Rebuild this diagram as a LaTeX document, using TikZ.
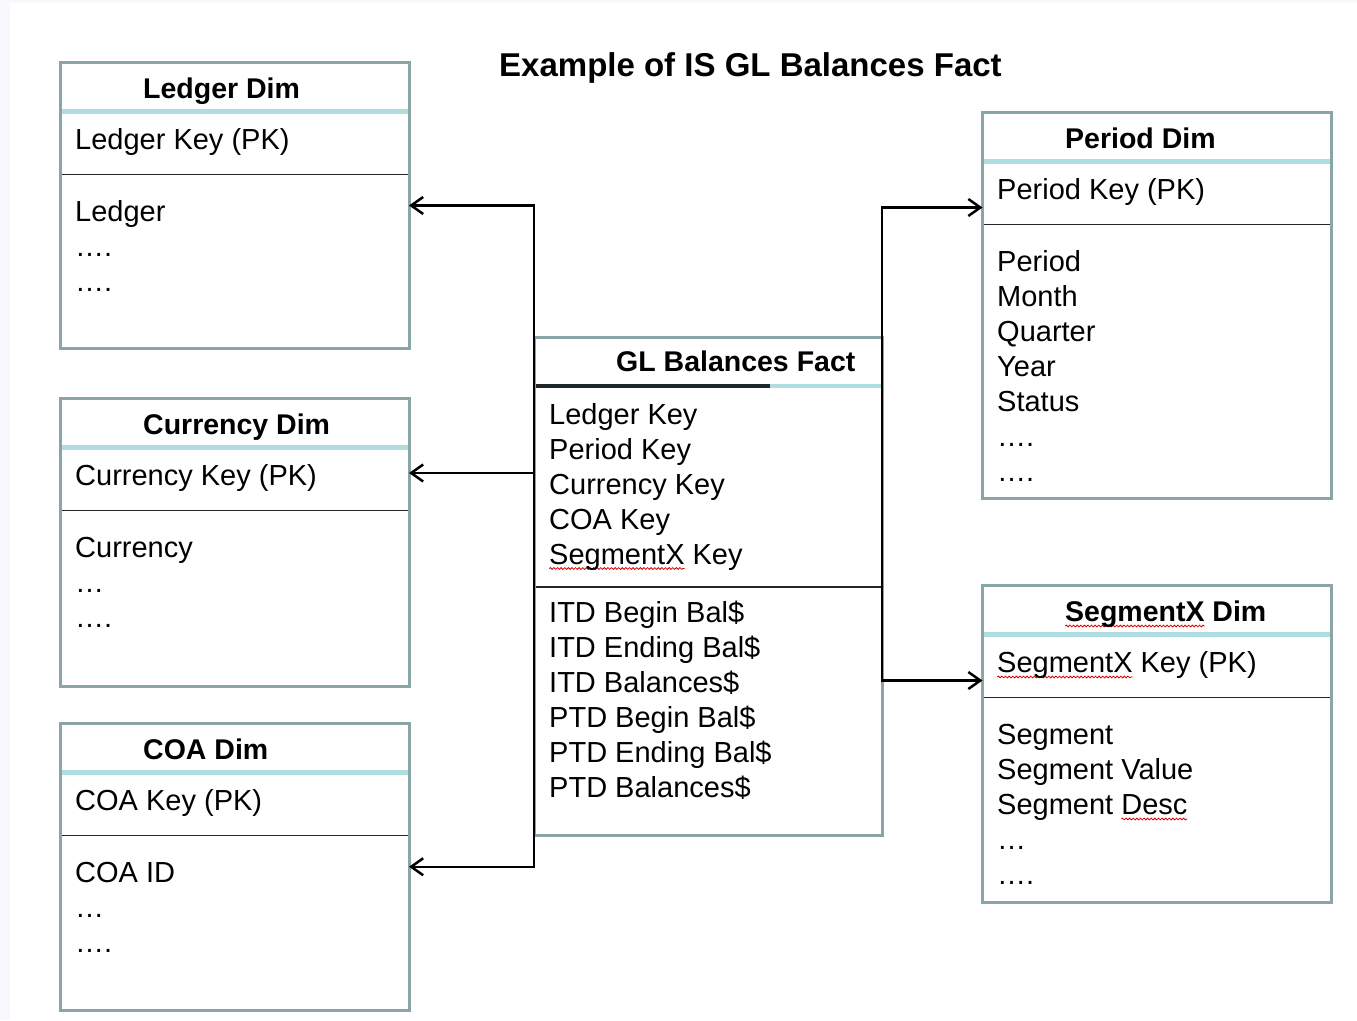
\documentclass[tikz,border=0pt]{standalone}
\usepackage{fontspec}
\setmainfont{Liberation Sans}
\usetikzlibrary{arrows.meta,decorations.pathmorphing,calc}
\definecolor{bordc}{RGB}{138,165,168}
\definecolor{hdrc}{RGB}{176,221,224}
\definecolor{bgc}{RGB}{247,249,253}
\definecolor{darkhdr}{RGB}{30,40,42}
\newlength\wavylen
\newcommand{\wavy}[1]{\settowidth\wavylen{#1}\rlap{\tikz[overlay,baseline=0pt]\draw[red!85!black,line width=0.8pt,decorate,decoration={snake,amplitude=0.9pt,segment length=3.6pt}] (0pt,-4.5pt) -- (\wavylen,-4.5pt);}#1}
\newcommand\dimtbl[4]{%
  \node[tbl,minimum height=#4pt] (#1) at (#2,#3) {};
  \draw[hdr] ($(#1.north west)+(1.5,49)$) -- ($(#1.north east)+(-1.5,49)$);
  \draw[sep] ($(#1.north west)+(1.5,112)$) -- ($(#1.north east)+(-1.5,112)$);
}
\begin{document}
\begin{tikzpicture}[x=1pt,y=-1pt,
  tbl/.style={draw=bordc,line width=3pt,fill=white,anchor=north west,minimum width=348.5pt,outer sep=0pt,inner sep=0pt},
  ttl/.style={anchor=base west,font=\bfseries\fontsize{28.5}{34}\selectfont,inner sep=0pt},
  itm/.style={anchor=base west,font=\fontsize{29}{35}\selectfont,inner sep=0pt},
  hdr/.style={draw=hdrc,line width=4.5pt},
  sep/.style={draw=black!85,line width=1.8pt},
  conn/.style={draw=black,line width=2.5pt},
  tip/.tip={Straight Barb[length=12pt,width=17pt,line width=2.5pt]}
]
\useasboundingbox (0,0) rectangle (1357,1020);
\fill[bgc] (0,0) rectangle (1357,1020);
\fill[white] (10,3) rectangle (1357,1020);

\node[anchor=base west,font=\bfseries\fontsize{33}{40}\selectfont,inner sep=0pt] (title) at (499,76) {Example of IS GL Balances Fact};

% Ledger Dim
\dimtbl{ledger}{60.5}{62.5}{286}
\node[ttl] (ledgerT) at (143,98.5) {Ledger Dim};
\node[itm] (ledgerPK) at (75,149.5) {Ledger Key (PK)};
\node[itm] (ledgerA1) at (75,221.5) {Ledger};
\node[itm] (ledgerA2) at (75,256.5) {….};
\node[itm] (ledgerA3) at (75,291.5) {….};

% Currency Dim
\dimtbl{currency}{60.5}{398.5}{288}
\node[ttl] (currencyT) at (143,434.5) {Currency Dim};
\node[itm] (currencyPK) at (75,485.5) {Currency Key (PK)};
\node[itm] (currencyA1) at (75,557.5) {Currency};
\node[itm] (currencyA2) at (75,592.5) {…};
\node[itm] (currencyA3) at (75,627.5) {….};

% COA Dim
\dimtbl{coa}{60.5}{723.5}{286.5}
\node[ttl] (coaT) at (143,759.5) {COA Dim};
\node[itm] (coaPK) at (75,810.5) {COA Key (PK)};
\node[itm] (coaA1) at (75,882.5) {COA ID};
\node[itm] (coaA2) at (75,917.5) {…};
\node[itm] (coaA3) at (75,952.5) {….};

% Period Dim
\dimtbl{period}{982.5}{112.5}{386}
\node[ttl] (periodT) at (1065,148.5) {Period Dim};
\node[itm] (periodPK) at (997,199.5) {Period Key (PK)};
\node[itm] (periodA1) at (997,271.5) {Period};
\node[itm] (periodA2) at (997,306.5) {Month};
\node[itm] (periodA3) at (997,341.5) {Quarter};
\node[itm] (periodA4) at (997,376.5) {Year};
\node[itm] (periodA5) at (997,411.5) {Status};
\node[itm] (periodA6) at (997,446.5) {….};
\node[itm] (periodA7) at (997,481.5) {….};

% SegmentX Dim
\dimtbl{segx}{982.5}{585.5}{317}
\node[ttl] (segxT) at (1065,621.5) {\wavy{SegmentX} Dim};
\node[itm] (segxPK) at (997,672.5) {\wavy{SegmentX} Key (PK)};
\node[itm] (segxA1) at (997,744.5) {Segment};
\node[itm] (segxA2) at (997,779.5) {Segment Value};
\node[itm] (segxA3) at (997,814.5) {Segment \wavy{Desc}};
\node[itm] (segxA4) at (997,849.5) {…};
\node[itm] (segxA5) at (997,884.5) {….};

% GL Balances Fact
\node[tbl,minimum width=348pt,minimum height=498pt] (fact) at (534,337) {};
\draw[draw=darkhdr,line width=3.5pt] ($(fact.north west)+(1.5,49)$) -- ($(fact.north west)+(236,49)$);
\draw[hdr] ($(fact.north west)+(236,49)$) -- ($(fact.north east)+(-1.5,49)$);
\draw[sep] ($(fact.north west)+(1.5,250)$) -- ($(fact.north east)+(-1.5,250)$);
\node[ttl] (factT) at (616,371) {GL Balances Fact};
\node[itm] (factK1) at (549,424) {Ledger Key};
\node[itm] (factK2) at (549,459) {Period Key};
\node[itm] (factK3) at (549,494) {Currency Key};
\node[itm] (factK4) at (549,529) {COA Key};
\node[itm] (factK5) at (549,564) {\wavy{SegmentX} Key};
\node[itm] (factM1) at (549,622) {ITD Begin Bal\$};
\node[itm] (factM2) at (549,657) {ITD Ending Bal\$};
\node[itm] (factM3) at (549,692) {ITD Balances\$};
\node[itm] (factM4) at (549,727) {PTD Begin Bal\$};
\node[itm] (factM5) at (549,762) {PTD Ending Bal\$};
\node[itm] (factM6) at (549,797) {PTD Balances\$};

% connectors
\coordinate (ycur) at (0,473);
\coordinate (yper) at (0,207.5);
\coordinate (yseg) at (0,680.5);
\coordinate (curIn) at (currency.east |- ycur);
\coordinate (perIn) at (period.west |- yper);
\coordinate (segIn) at (segx.west |- yseg);
\draw[conn,tip-tip] (ledger.east) -| (fact.north west) -- (fact.south west) |- (coa.east);
\draw[conn,-tip] (fact.west |- ycur) -- (curIn);
\draw[conn,tip-tip] (perIn) -| (fact.north east) |- (segIn);
\end{tikzpicture}
\end{document}
